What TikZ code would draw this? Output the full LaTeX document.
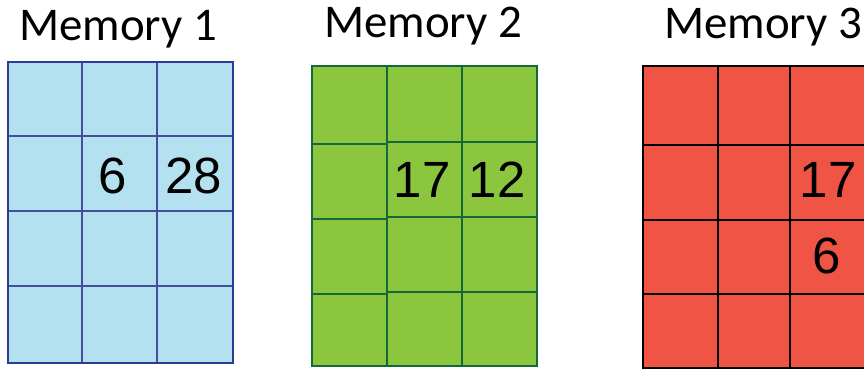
\documentclass[tikz,border=0pt]{standalone}
\usepackage{fontspec}
\setmainfont{Carlito}
\newfontfamily\digitfont{Liberation Sans}

\definecolor{memblue}{HTML}{B4E1EF}
\definecolor{blueline}{HTML}{2E3A94}
\definecolor{memgreen}{HTML}{8CC63F}
\definecolor{greenline}{HTML}{13693A}
\definecolor{memred}{HTML}{EF5444}

\tikzset{
  memtitle/.style={font=\fontsize{26.7}{30}\selectfont, anchor=base west, inner sep=0pt},
  memval/.style={font=\digitfont\fontsize{29}{32}\selectfont, anchor=base, inner sep=0pt}
}

\begin{document}
\begin{tikzpicture}[x=0.02cm, y=-0.02cm, line width=1.4pt]

\clip (0,0) rectangle (864,369);

% Memory 1
\node[memtitle] (title1) at (18,40) {Memory 1};
\fill[memblue] (8,62) rectangle (233,363);
\draw[blueline!90] (82,62) -- (82,363);
\draw[blueline!90] (157,62) -- (157,363);
\draw[blueline!90] (8,136) -- (233,136);
\draw[blueline!90] (8,211) -- (233,211);
\draw[blueline!90] (8,286) -- (233,286);
\draw[blueline, line width=1.6pt] (8,62) rectangle (233,363);
\node[memval] (m1a) at (113,193) {6};
\node[memval] (m1b) at (194,193) {28};

% Memory 2
\node[memtitle] (title2) at (323,37) {Memory 2};
\fill[memgreen] (312,66) rectangle (537,366);
\draw[greenline] (387,66) -- (387,366);
\draw[greenline] (462,66) -- (462,366);
\draw[greenline] (312,144) -- (387,144);
\draw[greenline] (312,219) -- (387,219);
\draw[greenline] (312,294) -- (387,294);
\draw[greenline] (387,142) -- (537,142);
\draw[greenline] (387,217) -- (537,217);
\draw[greenline] (387,292) -- (537,292);
\draw[greenline] (312,66) rectangle (537,366);
\node[memval] (m2a) at (422,197) {17};
\node[memval] (m2b) at (497,197) {12};

% Memory 3
\node[memtitle] (title3) at (663,38) {Memory 3};
\fill[memred] (643,66) rectangle (866,368);
\draw[black] (718,66) -- (718,368);
\draw[black] (790,66) -- (790,368);
\draw[black] (643,145) -- (866,145);
\draw[black] (643,220) -- (866,220);
\draw[black] (643,294) -- (866,294);
\draw[black] (643,66) rectangle (866,368);
\node[memval] (m3a) at (828,197) {17};
\node[memval] (m3b) at (827,273) {6};

\end{tikzpicture}
\end{document}
